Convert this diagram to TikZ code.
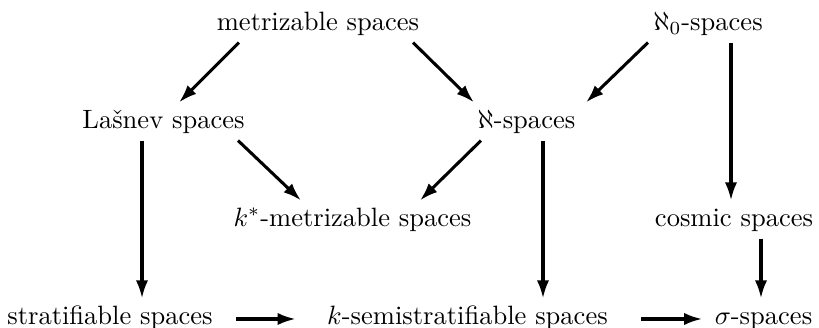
\documentclass[tikz,border=0pt]{standalone}
\usetikzlibrary{arrows.meta,calc}
\begin{document}
\begin{tikzpicture}[x=0.377pt,y=-0.377pt,
  lbl/.style={inner xsep=0pt,inner ysep=0pt,text height=7pt,text depth=2pt,minimum height=13.95pt},
  arr/.style={line width=1.15pt,-{Latex[length=6.8pt,width=4.6pt]}}]
\useasboundingbox (0,0) rectangle (819,328);
\node[lbl] (m)  at (318,23.5)   {metrizable spaces};
\node[lbl] (a0) at (708,23.5)   {$\aleph_0$-spaces};
\node[lbl] (l)  at (163.5,121.5) {La\v{s}nev spaces};
\node[lbl] (a)  at (526.5,121.5) {$\aleph$-spaces};
\node[lbl] (ks) at (352.5,219.5) {$k^*$-metrizable spaces};
\node[lbl] (c)  at (734,219.5)  {cosmic spaces};
\node[lbl] (s)  at (110,317.5)  {stratifiable spaces};
\node[lbl] (k)  at (467.5,317.5) {$k$-semistratifiable spaces};
\node[lbl] (sg) at (763.5,317.5) {$\sigma$-spaces};
\draw[arr] ($(m.south)+(-79,0)$) -- ($(l.north)+(15.5,0)$);
\draw[arr] ($(m.south)+(95,0)$) -- ($(a.north)+(-52.5,0)$);
\draw[arr] ($(a0.south)+(-60,0)$) -- ($(a.north)+(59.5,0)$);
\draw[arr] ($(a0.south)+(23,0)$) -- ($(c.north)+(-3,0)$);
\draw[arr] ($(l.south)+(-21.5,0)$) -- ($(s.north)+(32,0)$);
\draw[arr] ($(l.south)+(74.5,0)$) -- ($(ks.north)+(-51.5,0)$);
\draw[arr] ($(a.south)+(-45.5,0)$) -- ($(ks.north)+(67.5,0)$);
\draw[arr] ($(a.south)+(16.5,0)$) -- ($(k.north)+(75.5,0)$);
\draw[arr] ($(c.south)+(27,0)$) -- ($(sg.north)+(-2.5,0)$);
\draw[arr] ($(s.east)+(23,1.5)$) -- ($(k.west)+(-31,1.5)$);
\draw[arr] ($(k.east)+(33,1.5)$) -- ($(sg.west)+(-12,1.5)$);
\end{tikzpicture}
\end{document}
